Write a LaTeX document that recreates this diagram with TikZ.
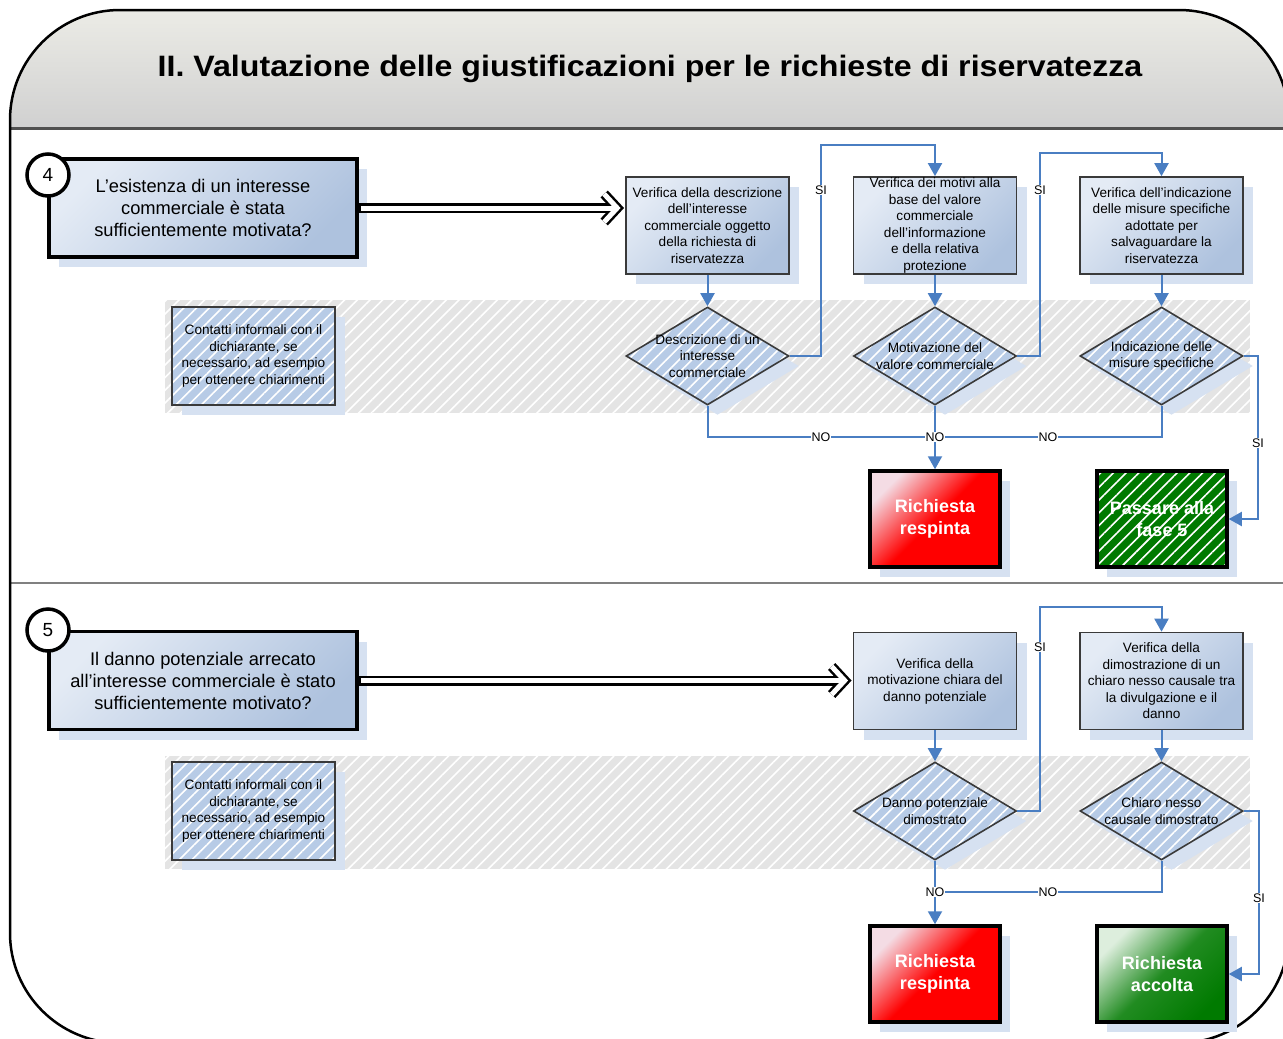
\documentclass[tikz,border=0pt]{standalone}
\usepackage{fontspec}
\setmainfont{Liberation Sans}
\usetikzlibrary{arrows.meta,shapes.geometric,patterns.meta,shadows,calc}
\definecolor{connblue}{HTML}{4A7EC2}
\definecolor{boxlight}{HTML}{E4EBF5}
\definecolor{boxdark}{HTML}{AEC2DE}
\definecolor{shadowblue}{HTML}{D6E1F1}
\definecolor{hatchblue}{HTML}{B7CBE6}
\definecolor{bandgray}{HTML}{E4E4E4}
\definecolor{hdrtop}{HTML}{EEEEE8}
\definecolor{hdrbot}{HTML}{D0D0D0}
\definecolor{hdrline}{HTML}{505050}
\definecolor{divgray}{HTML}{808080}
\definecolor{redlight}{HTML}{F4DCE4}
\definecolor{redmain}{HTML}{FF0000}
\definecolor{greenlight}{HTML}{DDEEDD}
\definecolor{greendark}{HTML}{007A00}
\definecolor{edgegray}{HTML}{3A3A3A}
% hollow double arrow: #1 start, #2 vertex of the chevron
\newcommand{\myhollowarrow}[2]{%
  \draw[hollowout, line join=miter] ($(#2)+(-13,-14)$) -- (#2) -- ($(#2)+(-13,14)$);
  \draw[hollowout] (#1) -- (#2);
  \draw[hollowin, line join=miter] ($(#2)+(-13,-14)$) -- (#2) -- ($(#2)+(-13,14)$);
  \draw[hollowin] ($(#1)+(2,0)$) -- (#2);
}
\begin{document}
\begin{tikzpicture}[x=1pt,y=-1pt,
  shadowed/.style={drop shadow={shadow xshift=10pt,shadow yshift=-10pt,fill=shadowblue,opacity=1}},
  hatchfill/.style={preaction={fill=#1}, pattern={Lines[angle=45,distance=9pt,line width=1.6pt]}, pattern color=white},
  smalltext/.style={font=\fontsize{13.6}{16.5}\selectfont},
  vbox/.style={rectangle, draw=edgegray, line width=1.6pt, minimum width=163pt, minimum height=97pt, inner sep=1pt, align=center, smalltext, shadowed, top color=boxlight, bottom color=boxdark, shading angle=45},
  qbox/.style={rectangle, draw=black, line width=3.5pt, minimum width=308pt, minimum height=98pt, align=center, font=\fontsize{18.3}{22}\selectfont, shadowed, top color=boxlight, bottom color=boxdark, shading angle=45},
  cbox/.style={rectangle, draw=edgegray, line width=1.6pt, minimum width=163pt, minimum height=98pt, inner sep=1pt, align=center, smalltext, shadowed, hatchfill=hatchblue},
  dia/.style={diamond, draw=edgegray, line width=1.6pt, minimum width=163pt, minimum height=98pt, inner sep=0pt, shadowed, hatchfill=hatchblue},
  dtxt/.style={align=center, smalltext, inner sep=0pt},
  endbox/.style={rectangle, draw=black, line width=3.5pt, minimum width=130pt, minimum height=96pt, align=center, text=white, font=\bfseries\fontsize{18}{22}\selectfont, shadowed},
  redbox/.style={endbox, top color=redlight, bottom color=redmain, middle color=redmain, shading angle=45},
  greenbox/.style={endbox, top color=greenlight, bottom color=greendark, middle color=greendark!85!greenlight, shading angle=45},
  greenhatch/.style={endbox, hatchfill=greendark},
  num/.style={circle, draw=black, line width=3.5pt, fill=white, minimum size=42pt, inner sep=0pt, font=\fontsize{19}{19}\selectfont},
  conn/.style={draw=connblue, line width=2pt, -{Triangle[length=13pt,width=14pt]}},
  connplain/.style={draw=connblue, line width=2pt},
  hollowout/.style={draw=black, line width=10pt, line cap=butt},
  hollowin/.style={draw=white, line width=5pt, line cap=butt},
  lbl/.style={font=\fontsize{12.5}{13}\selectfont, fill=white, inner sep=1pt},
]
\useasboundingbox (0,0) rectangle (1283,1039);
\fill[white] (0,0) rectangle (1283,1039);
% frame
\begin{scope}
  \clip (0,0) rectangle (1283,1039);
  \begin{scope}
    \clip[rounded corners=110pt] (10,10) rectangle (1289,1043);
    \shade[top color=hdrtop, bottom color=hdrbot] (0,0) rectangle (1300,128);
  \end{scope}
  \draw[line width=3pt, draw=hdrline] (10,128) -- (1289,128);
  \draw[line width=2.5pt, draw=divgray] (10,583) -- (1289,583);
  \draw[line width=2.5pt, rounded corners=110pt] (10,10) rectangle (1289,1043);
\end{scope}
\node[font=\bfseries\fontsize{29.5}{30}\selectfont, inner sep=0pt] (title) at (650,69) {\scalebox{1.09}[1]{II. Valutazione delle giustificazioni per le richieste di riservatezza}};

% bands
\path[hatchfill=bandgray] (165,300) rectangle (1250,413);
\path[hatchfill=bandgray] (165,756) rectangle (1250,869);

% ---------- section 4
\node[qbox] (Q4) at (203,208) {L’esistenza di un interesse\\commerciale è stata\\sufficientemente motivata?};
\node[num] (N4) at (48,175) {4};
\node[vbox] (V1) at (707.5,225.5) {Verifica della descrizione\\dell'interesse\\commerciale oggetto\\della richiesta di\\riservatezza};
\node[vbox] (V2) at (935,225.5) {Verifica dei motivi alla\\base del valore\\commerciale\\dell'informazione\\e della relativa\\protezione};
\node[vbox] (V3) at (1161.5,225.5) {Verifica dell'indicazione\\delle misure specifiche\\adottate per\\salvaguardare la\\riservatezza};
\node[cbox] (C1) at (253.5,356) {Contatti informali con il\\dichiarante, se\\necessario, ad esempio\\per ottenere chiarimenti};
\node[dia] (D1) at (707.5,356) {};
\node[dtxt] (D1t) at (D1) {Descrizione di un\\interesse\\commerciale};
\node[dia] (D2) at (935,356) {};
\node[dtxt] (D2t) at (D2) {Motivazione del\\valore commerciale};
\node[dia] (D3) at (1161.5,356) {};
\node[dtxt] (D3t) at (D3) {Indicazione delle\\misure specifiche};
\node[redbox] (R1) at (935,519) {Richiesta\\respinta};
\node[greenhatch] (G1) at (1162,519) {Passare alla\\fase 5};

\coordinate (s1) at (821,145);
\coordinate (s2) at (1040,153);
\coordinate (s3) at (1258,443);
\coordinate (j1) at (935,437);
\coordinate (t4) at ($(Q4.east -| V1.west)+(-8,0)$);

\myhollowarrow{Q4.east}{t4}
\draw[conn] (V1.south) -- (D1.north);
\draw[conn] (V2.south) -- (D2.north);
\draw[conn] (V3.south) -- (D3.north);
\draw[conn] (D1.east) -| (s1) -| (V2.north);
\draw[conn] (D2.east) -| (s2) -| (V3.north);
\draw[conn] (D3.east) -| (s3) |- (G1.east);
\draw[connplain] (D1.south) |- (j1);
\draw[connplain] (D3.south) |- (j1);
\draw[conn] (D2.south) -- (R1.north);

\node[lbl] (L1) at (821,190) {SI};
\node[lbl] (L2) at (1040,190) {SI};
\node[lbl] (L3) at (1258,443) {SI};
\node[lbl] (L4) at (821,437) {NO};
\node[lbl] (L5) at (935,437) {NO};
\node[lbl] (L6) at (1048,437) {NO};

% ---------- section 5
\node[qbox] (Q5) at (203,680.5) {Il danno potenziale arrecato\\all’interesse commerciale è stato\\sufficientemente motivato?};
\node[num] (N5) at (48,630) {5};
\node[vbox] (W1) at (935,681) {Verifica della\\motivazione chiara del\\danno potenziale};
\node[vbox] (W2) at (1161.5,681) {Verifica della\\dimostrazione di un\\chiaro nesso causale tra\\la divulgazione e il\\danno};
\node[cbox] (C2) at (253.5,811) {Contatti informali con il\\dichiarante, se\\necessario, ad esempio\\per ottenere chiarimenti};
\node[dia] (E1) at (935,811) {};
\node[dtxt] (E1t) at (E1) {Danno potenziale\\dimostrato};
\node[dia] (E2) at (1161.5,811) {};
\node[dtxt] (E2t) at (E2) {Chiaro nesso\\causale dimostrato};
\node[redbox] (R2) at (935,974) {Richiesta\\respinta};
\node[greenbox] (G2) at (1162,974) {Richiesta\\accolta};

\coordinate (s4) at (1040,607);
\coordinate (s5) at (1259,898);
\coordinate (j2) at (935,892);
\coordinate (t5) at ($(Q5.east -| W1.west)+(-8,0)$);

\myhollowarrow{Q5.east}{t5}
\draw[conn] (W1.south) -- (E1.north);
\draw[conn] (W2.south) -- (E2.north);
\draw[conn] (E1.east) -| (s4) -| (W2.north);
\draw[conn] (E2.east) -| (s5) |- (G2.east);
\draw[connplain] (E2.south) |- (j2);
\draw[conn] (E1.south) -- (R2.north);

\node[lbl] (L7) at (1040,647) {SI};
\node[lbl] (L8) at (1259,898) {SI};
\node[lbl] (L9) at (935,892) {NO};
\node[lbl] (L10) at (1048,892) {NO};
\end{tikzpicture}
\end{document}
